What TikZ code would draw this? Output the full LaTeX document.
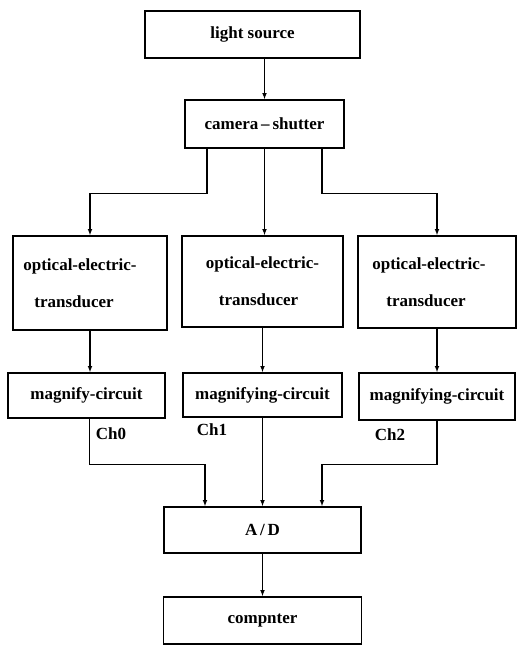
\documentclass[tikz,border=0pt]{standalone}
\usepackage{fontspec}
\setmainfont{Liberation Serif}
\begin{document}
\begin{tikzpicture}[x=1pt,y=-1pt,>=latex,every node/.style={font=\bfseries\fontsize{17}{19}\selectfont},
  blk/.style={draw,line width=1.8pt,inner sep=0pt},
  wire/.style={line width=1.1pt}]
\useasboundingbox (0,0) rectangle (517,646);
\node[blk,minimum width=215pt,minimum height=47pt] (light) at (252.5,34.5) {light source};
\node[blk,minimum width=159pt,minimum height=48pt] (cam) at (264.5,124) {camera\,--\,shutter};
\node[blk,minimum width=154pt,minimum height=94pt,align=left] (oe0) at (90,283) {\hspace*{-20pt}optical-electric-\\[18pt]\hspace*{-9pt}transducer};
\node[blk,minimum width=161pt,minimum height=91pt,align=left] (oe1) at (262.5,281.5) {optical-electric-\\[18pt]\hspace{13pt}transducer};
\node[blk,minimum width=158pt,minimum height=92pt,align=left] (oe2) at (437,282) {\hspace*{-16pt}optical-electric-\\[18pt]\hspace*{-2pt}transducer};
\node[blk,minimum width=157pt,minimum height=45pt] (mag0) at (86.5,395.5) {magnify-circuit};
\node[blk,minimum width=159pt,minimum height=44pt] (mag1) at (262.5,395) {magnifying-circuit};
\node[blk,minimum width=156pt,minimum height=47pt] (mag2) at (437,396.5) {magnifying-circuit};
\node[blk,minimum width=197pt,minimum height=46pt] (ad) at (262.5,530) {A\,/\,D};
\node[blk,minimum width=198pt,minimum height=47pt] (comp) at (262.5,620.5) {compnter};
\node (ch0) at (111,434) {Ch0}; \node (ch1) at (212,430) {Ch1}; \node (ch2) at (390,435) {Ch2};
\draw[wire,->] (cam.north |- light.south) -- (cam.north);
\draw[wire,->] ([xshift=-57.5pt]cam.south) -- ++(0,45) -| (oe0.north);
\draw[wire,->] (cam.south) -- (cam.south |- oe1.north);
\draw[wire,->] ([xshift=57.5pt]cam.south) -- ++(0,45) -| (oe2.north);
\draw[wire,->] (oe0.south) -- (oe0.south |- mag0.north); \draw[wire,->] (oe1.south) -- (mag1.north); \draw[wire,->] (oe2.south) -- (mag2.north);
\draw[wire,->] ([xshift=3pt]mag0.south) -- ++(0,46) -| ([xshift=-57.5pt]ad.north);
\draw[wire,->] (mag1.south) -- (ad.north);
\draw[wire,->] (mag2.south) -- ++(0,44) -| ([xshift=59.5pt]ad.north);
\draw[wire,->] (ad.south) -- (comp.north);
\end{tikzpicture}
\end{document}
